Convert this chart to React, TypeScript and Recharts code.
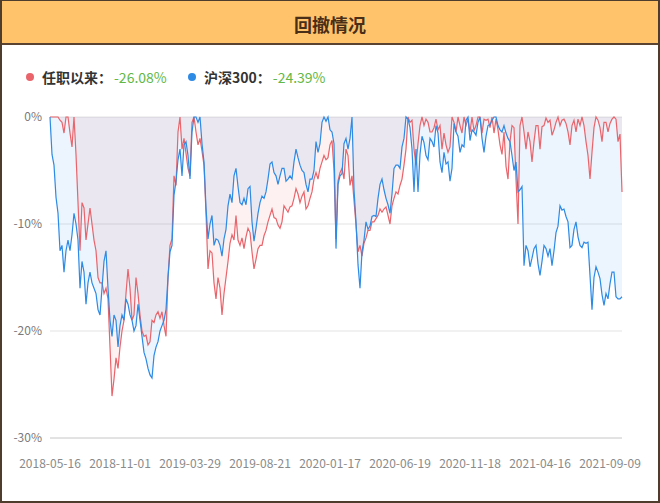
import React from 'react'
import {
  ComposedChart,
  Area,
  Line,
  XAxis,
  YAxis,
  CartesianGrid,
} from 'recharts'

// drawdown (%), roughly every 2px along the x axis
const fundDrawdown = [
  0, 0, 0, 0, 0, -0.3, -0.5, -1.5, 0, 0, -1.5, -2.8, 0, -3.5, -8, -12.5, -8, -8.5, -11.5, -10,
  -8.5, -10, -11.5, -12.5, -15, -15.5, -15.5, -16.5, -16, -17, -21.5, -26.08, -24.5, -22.5, -23.5, -21.5, -20, -19, -16.5, -14.2,
  -16, -19, -18.5, -15, -16.5, -18.5, -20, -20.5,
  -20.4, -21.3, -21, -19, -19.2, -18.5, -18.2, -18.8, -18.2, -19.5, -20.5, -15, -12, -11.4, -5.5, -6.4, -1.4, 0, -3, -2,
  -3.4, -4.8, -5.5, -0.5, 0, -1.4, -2.6, -2, -3.2, -4.5, -9, -14.2, -12.5, -12.7, -15.5, -17, -15, -16, -18.5, -16.5,
  -15, -13.5, -11.8, -11, -11.5, -9.2, -11.5, -12,
  -11.3, -12.3, -11.2, -10.4, -10.8, -12.6, -14.2, -13.3, -12.3, -12, -12, -11.1, -10.6, -9.8, -9.2, -8.6, -9.4, -9.5, -10.1, -10.4,
  -9.8, -8.3, -8.6, -8.9, -8.4, -8.3, -7.6, -6.7, -7.2, -8, -7.4, -7, -8.6, -8.3, -7.6, -7, -5.8, -5.2, -5.8, -4.8,
  -4.2, -3.6, -4, -3.8, -2.6, -2.2, -5, -11.4,
  -6, -5.2, -4.8, -5.8, -3, -3.6, -6.4, -5.5, -7.8, -10.1, -12.6, -12, -13, -11.8, -11.3, -10.6, -10.6, -9.8, -9.8, -9.5,
  -9.2, -8.6, -8.9, -8.6, -8.4, -9.2, -10, -8.3, -7.6, -7, -7.2, -6.4, -5.8, -4.5, -3, 0, -0.5, -0.3, -3, -4.5,
  -2.5, -0.8, 0, -0.8, -0.2, -0.5, -1.4, -1.4,
  -1, -0.2, -1.2, -0.8, -3, -1.5, -2.6, -3.3, -2.8, 0, -0.5, -1.4, 0, -0.8, -1.5, 0, -0.8, -0.2, -1.4, 0,
  -1.3, -0.8, 0, 0, -1.5, -0.2, -0.3, -0.2, -1, 0, -1.5, -0.2, -1.2, -2.6, -3.5, -1.4, -4.6, -5.8, -2.3, -0.8,
  -1, -5.8, -10, -0.8, 0, -1.4, -3, -1.4,
  -2.3, -4.2, -2.3, -0.8, -0.8, -3, -0.9, -0.8, -0.1, -0.5, -0.3, -1.7, -1.2, -0.5, 0, -0.8, -0.3, -0.2, -0.6, -1.4,
  -2.6, -0.8, -0.3, -1.4, -0.2, -0.8, 0, -0.8, -2.3, -3.6, -5.8, -3.3, -1, 0, -0.3, -1, -2.3, -0.5, -0.5, -1.4,
  -0.6, -0.2, 0, -0.2, -2.3, -1.6, -7,
]

const hs300Drawdown = [
  0, -3.5, -4.5, -7.5, -9, -12.5, -12, -14.5, -12.5, -11.5, -12.5, -11, -9, -10, -11.5, -16, -13.5, -14.5, -17.5, -15.5,
  -14.5, -15.5, -16, -16.5, -18, -18.5, -16, -13.5, -12.5, -16, -19, -20.5, -18.5, -19, -21.5, -19.5, -18.5, -19, -17, -17.5,
  -18.5, -19, -20, -19.5, -17.5, -19, -20.5, -22,
  -22.6, -23.5, -24.1, -24.39, -22.3, -21.5, -21, -20, -19.5, -19, -18, -15, -12.6, -12, -7.3, -6, -4, -3, -5.5, -2.6,
  -2.3, -3.6, -5.8, -1.4, 0, 0, -0.5, 0, -2.5, -4.2, -8.5, -11.4, -10, -9.2, -12, -11.4, -11.5, -12, -13, -11.4,
  -10.5, -8.3, -7.2, -8, -5.5, -4.8, -6.5, -8,
  -8.2, -7.6, -8.2, -6.7, -6.5, -9.8, -11.6, -10.4, -9, -8, -7.4, -7.6, -7, -5.8, -4.4, -4.2, -5.2, -5.5, -6.3, -5.5,
  -4.8, -4.8, -6, -5.8, -5.5, -5.8, -4.2, -3, -3.8, -4.5, -5, -5.2, -6.3, -7, -5.8, -5.8, -5, -2.3, -3.3, -2.5,
  -0.5, 0, -0.4, 0, -1.2, -1.4, -2.5, -12.3,
  -6.3, -5.5, -5.3, -2.5, -2, -3, -2, 0, -6.8, -9.8, -13.8, -16, -12.6, -11.5, -9.8, -10.5, -10.2, -9.3, -9.2, -9.3,
  -7.6, -6.3, -5.8, -6.8, -7.6, -8.2, -9, -7.2, -4.8, -4.5, -4.5, -4.8, -2.8, -2, 0, -0.2, -1, -3, -7, -3,
  -7, -3.5, -1.8, -2.4, -3.6, -4, -2, -2.3,
  -2.8, -0.8, -1.5, -4.2, -5.2, -3.3, -4.4, -4.2, -6, -4.8, -0.6, -1.4, -1.8, -3.3, -2.6, -2.8, -0.3, 0, -2.2, -1.2,
  -1.4, -1.7, -0.5, 0, -2, -3.3, -1.8, -0.8, -0.7, -0.3, 0, 0, -0.8, -1.2, -1.4, -0.8, -1.5, -2, -2.3, -3.6,
  -5, -4.2, -7, -6.8, -6.5, -13.9, -12, -12.5,
  -14, -13.2, -12.3, -12, -13.7, -14.8, -13.5, -12, -12.3, -13, -12.3, -13.9, -12.5, -10.8, -10.2, -8.3, -8.7, -8.6, -9.3, -9.8,
  -12.2, -12, -10.5, -9.8, -11.2, -12, -12.2, -11.7, -11.8, -11.7, -14.8, -18, -15, -14, -14.5, -15.1, -16.6, -17.6, -16.5, -17,
  -15.6, -14.5, -14.5, -16.8, -17, -17, -16.8,
]

const dateTicks = [0, 35, 70, 105, 140, 175, 210, 245, 280]
const dateLabels = [
  '2018-05-16', '2018-11-01', '2019-03-29', '2019-08-21', '2020-01-17',
  '2020-06-19', '2020-11-18', '2021-04-16', '2021-09-09',
]
const yTicks = [0, -10, -20, -30]

const fundName = '任职以来'
const hs300Name = '沪深300'
const fundMax = '-26.08%'
const hs300Max = '-24.39%'

const RED = '#e9646b'
const BLUE = '#2d8ae5'
const FONT = '"Noto Sans CJK SC", "Noto Sans", sans-serif'

const data = fundDrawdown.map((v, i) => ({ i, fund: v, hs300: hs300Drawdown[i] }))

function LegendItem({ color, name, value, left }: { color: string; name: string; value: string; left: number }) {
  return (
    <div style={{ position: 'absolute', left, top: 67, display: 'flex', alignItems: 'center', height: 20 }}>
      <span style={{ width: 8, height: 8, borderRadius: 4, background: color, marginRight: 8 }} />
      <span style={{ fontSize: 14, fontWeight: 700, color: '#333' }}>{name}：</span>
      <span style={{ fontSize: 14, color: '#62b846', marginLeft: 2 }}>{value}</span>
    </div>
  )
}

export default function App() {
  return (
    <div style={{ position: 'absolute', left: 0, top: 0, width: 660, height: 503, background: '#fff', fontFamily: FONT, overflow: 'hidden' }}>
      <div style={{ position: 'absolute', left: 0, top: 0, width: 660, height: 43, background: '#ffc46b', borderBottom: '2px solid #5a4331' }} />
      <div style={{ position: 'absolute', left: 0, top: 13, width: 660, textAlign: 'center', fontSize: 18, lineHeight: '22px', fontWeight: 700, color: '#4a2e18' }}>
        回撤情况
      </div>
      <LegendItem color={RED} name={fundName} value={fundMax} left={26} />
      <LegendItem color={BLUE} name={hs300Name} value={hs300Max} left={188} />
      <div style={{ position: 'absolute', left: 0, top: 0 }}>
        <ComposedChart width={660} height={503} data={data} margin={{ top: 117, right: 38, bottom: 35, left: 0 }}>
          <CartesianGrid vertical={false} stroke="#e3e3e3" />
          <XAxis
            dataKey="i"
            type="number"
            domain={[0, fundDrawdown.length - 1]}
            ticks={dateTicks}
            interval={0}
            tickFormatter={(v: number) => dateLabels[dateTicks.indexOf(v)] ?? ''}
            tick={{ fill: '#8a8a8a', fontSize: 12, fontFamily: FONT }}
            tickLine={false}
            axisLine={{ stroke: '#d4d4d4' }}
            tickMargin={15}
            height={30}
          />
          <YAxis
            type="number"
            domain={[-30, 0]}
            ticks={yTicks}
            tickFormatter={(v: number) => `${v}%`}
            tick={{ fill: '#7a7a7a', fontSize: 12, fontFamily: FONT }}
            tickLine={false}
            axisLine={false}
            width={50}
          />
          <Area dataKey="fund" type="linear" stroke="none" fill={RED} fillOpacity={0.09} baseValue={0} isAnimationActive={false} />
          <Area dataKey="hs300" type="linear" stroke="none" fill={BLUE} fillOpacity={0.09} baseValue={0} isAnimationActive={false} />
          <Line dataKey="fund" type="linear" stroke={RED} strokeWidth={1.2} dot={false} isAnimationActive={false} />
          <Line dataKey="hs300" type="linear" stroke={BLUE} strokeWidth={1.2} dot={false} isAnimationActive={false} />
        </ComposedChart>
      </div>
      <div style={{ position: 'absolute', left: 0, top: 0, width: 660, height: 503, boxSizing: 'border-box', border: '2px solid #4e3c2d', borderTopWidth: 1, pointerEvents: 'none' }} />
    </div>
  )
}
